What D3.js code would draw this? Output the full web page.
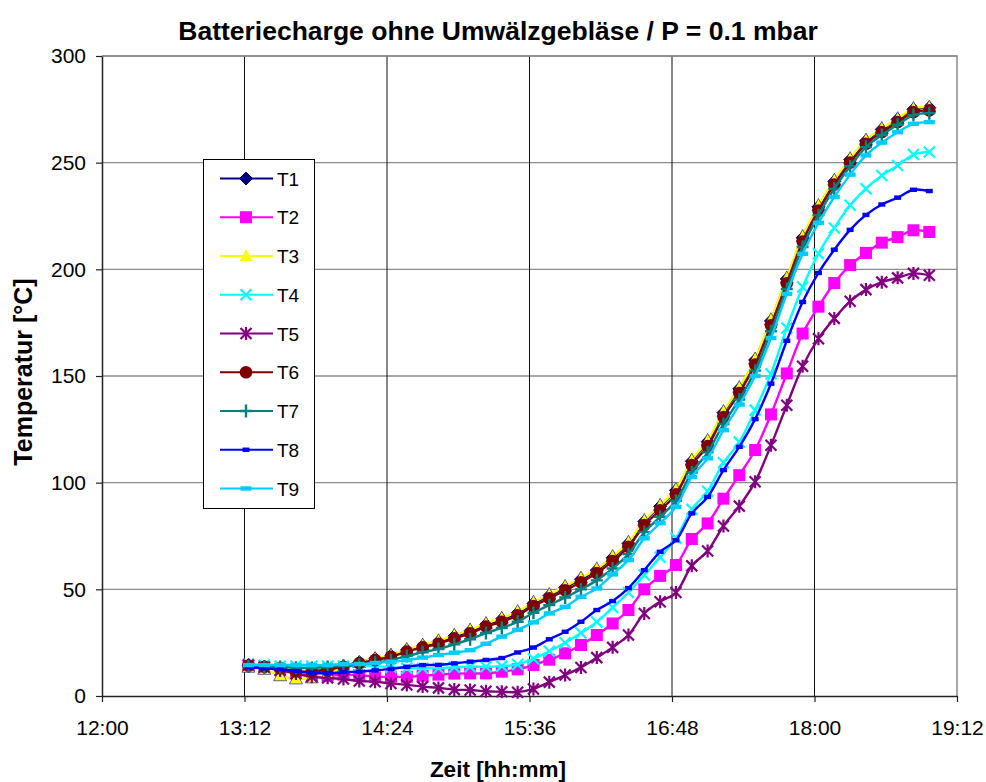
<!DOCTYPE html>
<html>
<head>
<meta charset="utf-8">
<script src="https://cdn.jsdelivr.net/npm/d3@7/dist/d3.min.js"></script>
<style>
  body { margin: 0; background: #fff; }
  svg text { font-family: "Liberation Sans", Arial, sans-serif; }
</style>
</head>
<body>
<div id="chart"></div>
<script>
// sample times (hh:mm)
const times = ["13:14","13:22","13:30","13:38","13:46","13:54","14:02","14:10","14:18","14:26","14:34",
  "14:42","14:50","14:58","15:06","15:14","15:22","15:30","15:38","15:46","15:54","16:02","16:10",
  "16:18","16:26","16:34","16:42","16:50","16:58","17:06","17:14","17:22","17:30","17:38","17:46",
  "17:54","18:02","18:10","18:18","18:26","18:34","18:42","18:50","18:58"];

const T1 = [14.5,13.8,12.8,11.3,11.3,12.6,14,15.8,17.4,19,21.5,23.5,25.4,28,30.4,33.5,36,39,43.4,47,50.8,54.7,59,64.8,71.5,81.8,88.9,96.4,110,119.2,132.8,144,157.5,175.8,195.5,214.8,229.3,241.2,251.4,260.2,265.6,270.3,275,275.8];
const T2 = [14,13.5,12.5,10.5,9.5,9.5,10,9.8,9,9,9,9.5,10,10.5,10.6,10.6,11.4,12.5,14.5,17,20,23.9,28.6,34,40.3,50,56.3,61.4,73.6,80.9,92.5,103.5,115.3,132,151.2,169.9,182.5,193.6,202,207.7,212.5,215.1,218.3,217.5];
const T3 = [13.5,12.5,9.5,8,8.5,10.5,13,15.7,17.6,19.2,21.8,23.9,25.9,28.5,31,34,36.5,39.6,44,47.6,51.4,55.3,59.6,65.4,72.1,82.3,89.4,96.9,110.6,119.8,133.4,144.6,158,176.4,196,215.4,229.9,241.8,251.9,260.6,266,270.6,275.4,276];
const T4 = [15,14.5,14,14,14,14,14,14,14,13.5,13,13,13,13.5,13.7,13.7,14,14.8,17.5,21,25,29.5,34.7,41.5,48.5,56.7,65,74,87.5,96,109.4,119,134,151,172.5,191.7,207.3,219.4,230,237.8,244,248.7,253.8,255];
const T5 = [14.5,13.5,12,10.5,9,8.5,8,7,6.7,5.9,5.2,4.4,3.8,3,2.8,2.2,2,1.8,3.3,6.5,9.8,13.4,18,22.8,28.6,38.7,44.2,48.5,61,68,79.7,89,100.4,117.5,136.3,154.6,167.5,177,185,190.5,194,196,198.1,197.2];
const T6 = [14.3,13.7,13,11.5,11.5,12.5,13.7,15.4,16.9,18.4,20.8,22.8,24.5,27,29.4,32.5,34.8,37.8,42.2,45.8,49.5,53.3,57.6,63.2,69.9,80.1,87.1,94.5,108.2,117.2,130.8,142,155.4,173.8,193.5,213,227.6,239.7,250,258.9,264.3,269,273.7,274.5];
const T7 = [13.8,13.7,13.6,13.2,13.1,13.6,14.2,14.6,15.6,16.8,18.7,20.5,22,24.2,26.6,29.5,31.9,34.8,39,42.6,46.2,50,54.2,59.8,66.5,76.8,84,91.5,104.8,114.2,127.5,139,152.5,171,190.8,210.5,225.4,237.8,248.3,257.3,263,267.8,272.3,273.2];
const T8 = [13.5,13,12.5,11.7,10.9,10.6,11.2,11.4,12,12.7,13.7,14.5,14.6,15.3,16.1,16.9,17.8,20.4,22.7,26.6,30.1,34.8,40.3,44.5,50.6,59,67.6,73,85.6,93.3,105.9,116.8,129.8,146.4,166.5,184.7,198.3,209.2,218.5,225.5,230.4,233.6,237.3,236.7];
const T9 = [14.5,14.5,14.5,14.5,14.5,14.5,15,15,15.5,16,16.8,18,19.2,20.3,21.5,24.5,27.8,31,34.5,38.7,41.8,46.5,50.4,57,63.7,73.9,81,88.7,102.7,111.4,124.6,136.6,150,167.8,188.5,207.3,221.8,233.9,244.4,253.4,259.4,264.3,268.2,269];

const seriesNames = ["T1","T2","T3","T4","T5","T6","T7","T8","T9"];
const seriesValues = [T1,T2,T3,T4,T5,T6,T7,T8,T9];
const seriesColors = ["#000080","#ff00ff","#ffff00","#00ffff","#800080","#800000","#008080","#0000ff","#00ccff"];
const seriesMarkers = ["diamond","square","triangle","x","star","circle","plus","dashS","dashL"];

const xTickLabels = ["12:00","13:12","14:24","15:36","16:48","18:00","19:12"];
const yTicks = [0,50,100,150,200,250,300];

// plot config
const chartWidth = 986, chartHeight = 782;
const plotLeft = 102, plotRight = 957, plotTop = 56, plotBottom = 696;

const toMin = s => { const p = s.split(":"); return +p[0] * 60 + +p[1]; };

const x = d3.scaleLinear().domain([toMin("12:00"), toMin("19:12")]).range([plotLeft, plotRight]);
const y = d3.scaleLinear().domain([0, 300]).range([plotBottom, plotTop]);

const svg = d3.select("#chart").append("svg")
  .attr("width", chartWidth).attr("height", chartHeight);

// title
svg.append("text")
  .attr("x", 498).attr("y", 40)
  .attr("text-anchor", "middle")
  .style("font-size", "26.5px").style("font-weight", "bold")
  .text("Batteriecharge ohne Umwälzgebläse / P = 0.1 mbar");

// gridlines
svg.append("g").selectAll("line").data(yTicks.slice(1)).enter().append("line")
  .attr("x1", plotLeft).attr("x2", plotRight)
  .attr("y1", d => y(d)).attr("y2", d => y(d))
  .style("stroke", "#8c8c8c").style("stroke-width", 1.4);

svg.append("g").selectAll("line").data(xTickLabels.slice(1, -1)).enter().append("line")
  .attr("x1", d => x(toMin(d))).attr("x2", d => x(toMin(d)))
  .attr("y1", plotTop).attr("y2", plotBottom)
  .style("stroke", "#111").style("stroke-width", 1);

// plot border (top/right)
svg.append("path")
  .attr("d", `M${plotLeft},${plotTop}H${plotRight}V${plotBottom}`)
  .style("fill", "none").style("stroke", "#8c8c8c").style("stroke-width", 1.5);

// axes
const xAxis = d3.axisBottom(x)
  .tickValues(xTickLabels.map(toMin))
  .tickFormat((d, i) => xTickLabels[i])
  .tickSizeInner(6).tickSizeOuter(0).tickPadding(18);
const yAxis = d3.axisLeft(y)
  .tickValues(yTicks).tickSizeInner(6).tickSizeOuter(0).tickPadding(10);

const gx = svg.append("g").attr("transform", `translate(0,${plotBottom})`).call(xAxis);
const gy = svg.append("g").attr("transform", `translate(${plotLeft},0)`).call(yAxis);
[gx, gy].forEach(g => {
  g.select(".domain").style("stroke", "#222").style("stroke-width", 1.5);
  g.selectAll(".tick line").style("stroke", "#222").style("stroke-width", 1.2);
  g.selectAll(".tick text").style("font-size", "21px").style("fill", "#000")
    .style("font-family", "'Liberation Sans', Arial, sans-serif");
});

// axis labels
svg.append("text")
  .attr("x", 498).attr("y", 777)
  .attr("text-anchor", "middle")
  .style("font-size", "22.5px").style("font-weight", "bold")
  .text("Zeit [hh:mm]");

svg.append("text")
  .attr("transform", `translate(32,372) rotate(-90)`)
  .attr("text-anchor", "middle")
  .style("font-size", "25px").style("font-weight", "bold")
  .text("Temperatur [°C]");

// marker drawing
function drawMarker(g, type, color, cx, cy, outlined) {
  if (type === "diamond") {
    g.append("path").attr("d", `M${cx},${cy - 6.5}L${cx + 6.5},${cy}L${cx},${cy + 6.5}L${cx - 6.5},${cy}Z`)
      .style("fill", color).style("stroke", color);
  } else if (type === "square") {
    g.append("rect").attr("x", cx - 6).attr("y", cy - 6).attr("width", 12).attr("height", 12)
      .style("fill", color);
  } else if (type === "triangle") {
    g.append("path").attr("d", `M${cx},${cy - 7}L${cx + 6.5},${cy + 5}L${cx - 6.5},${cy + 5}Z`)
      .style("fill", color)
      .style("stroke", outlined ? "#000080" : "none").style("stroke-width", 0.6);
  } else if (type === "x") {
    g.append("path").attr("d", `M${cx - 5.5},${cy - 5.5}L${cx + 5.5},${cy + 5.5}M${cx - 5.5},${cy + 5.5}L${cx + 5.5},${cy - 5.5}`)
      .style("stroke", color).style("stroke-width", 2.2);
  } else if (type === "star") {
    g.append("path").attr("d", `M${cx - 5.5},${cy - 5.5}L${cx + 5.5},${cy + 5.5}M${cx - 5.5},${cy + 5.5}L${cx + 5.5},${cy - 5.5}M${cx},${cy - 6.5}V${cy + 6.5}`)
      .style("stroke", color).style("stroke-width", 2.2);
  } else if (type === "circle") {
    g.append("circle").attr("cx", cx).attr("cy", cy).attr("r", 6.3)
      .style("fill", color);
  } else if (type === "plus") {
    g.append("path").attr("d", `M${cx - 6},${cy}H${cx + 6}M${cx},${cy - 6.5}V${cy + 6.5}`)
      .style("stroke", color).style("stroke-width", 2.4);
  } else if (type === "dashS") {
    g.append("rect").attr("x", cx - 3.5).attr("y", cy - 2.2).attr("width", 7).attr("height", 4.4)
      .style("fill", color);
  } else if (type === "dashL") {
    g.append("rect").attr("x", cx - 5.5).attr("y", cy - 2.2).attr("width", 11).attr("height", 4.4)
      .style("fill", color);
  }
}

const line = d3.line()
  .x((d, i) => x(toMin(times[i])))
  .y(d => y(d))
  .curve(d3.curveCatmullRom.alpha(0.5));

seriesNames.forEach((name, s) => {
  const g = svg.append("g").classed("series_" + name, true);
  g.append("path")
    .datum(seriesValues[s])
    .attr("d", line)
    .style("fill", "none")
    .style("stroke", seriesColors[s])
    .style("stroke-width", 2.4);
  seriesValues[s].forEach((v, i) => {
    drawMarker(g, seriesMarkers[s], seriesColors[s], x(toMin(times[i])), y(v), true);
  });
});

// legend
const legend = svg.append("g").attr("transform", "translate(203,159)");
legend.append("rect")
  .attr("x", 0.5).attr("y", 0.5).attr("width", 111).attr("height", 349)
  .style("fill", "#fff").style("stroke", "#000").style("stroke-width", 1);

seriesNames.forEach((name, s) => {
  const ly = 19.5 + s * 38.75;
  const lg = legend.append("g");
  lg.append("line").attr("x1", 17).attr("x2", 70).attr("y1", ly).attr("y2", ly)
    .style("stroke", seriesColors[s]).style("stroke-width", 2.2);
  drawMarker(lg, seriesMarkers[s], seriesColors[s], 43, ly, false);
  lg.append("text").attr("x", 74).attr("y", ly + 7)
    .style("font-size", "19px").text(name);
});
</script>
</body>
</html>
